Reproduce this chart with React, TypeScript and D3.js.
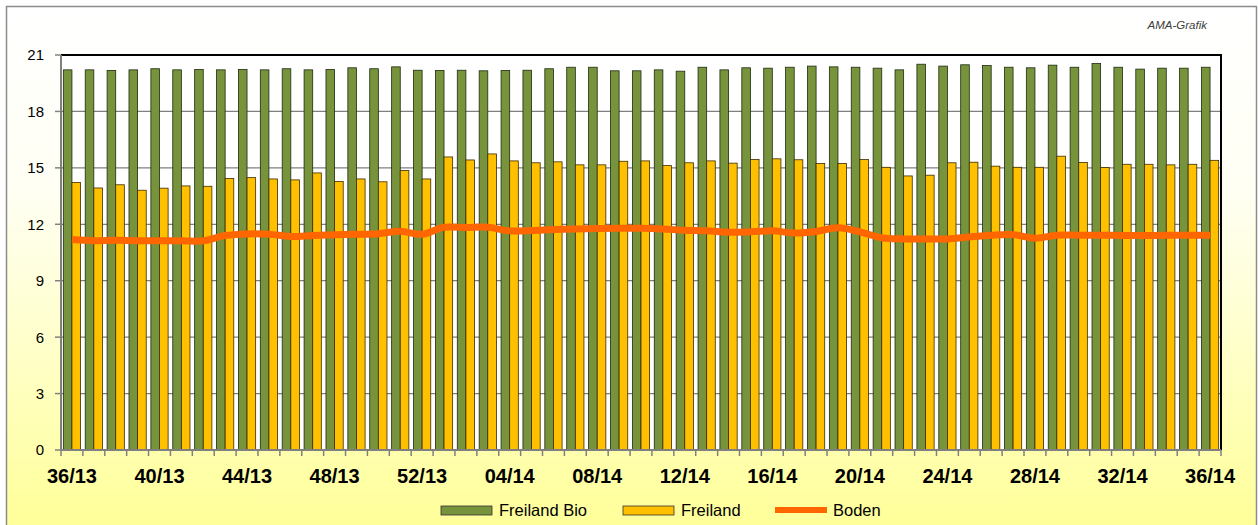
import { useRef, useEffect } from 'react';
import * as d3 from 'd3';

const weeks = [
  '36/13', '37/13', '38/13', '39/13', '40/13', '41/13', '42/13', '43/13', '44/13', '45/13',
  '46/13', '47/13', '48/13', '49/13', '50/13', '51/13', '52/13', '01/14', '02/14', '03/14',
  '04/14', '05/14', '06/14', '07/14', '08/14', '09/14', '10/14', '11/14', '12/14', '13/14',
  '14/14', '15/14', '16/14', '17/14', '18/14', '19/14', '20/14', '21/14', '22/14', '23/14',
  '24/14', '25/14', '26/14', '27/14', '28/14', '29/14', '30/14', '31/14', '32/14', '33/14',
  '34/14', '35/14', '36/14',
];

const freilandBio = [
  20.21, 20.21, 20.18, 20.21, 20.27, 20.21, 20.23, 20.21, 20.23, 20.21, 20.27, 20.21, 20.23,
  20.32, 20.27, 20.37, 20.19, 20.18, 20.19, 20.16, 20.18, 20.19, 20.27, 20.35, 20.35, 20.16,
  20.16, 20.21, 20.14, 20.35, 20.21, 20.32, 20.3, 20.35, 20.41, 20.37, 20.35, 20.3, 20.21,
  20.51, 20.41, 20.48, 20.44, 20.35, 20.32, 20.46, 20.35, 20.55, 20.35, 20.25, 20.3, 20.3, 20.35,
];

const freiland = [
  14.22, 13.93, 14.1, 13.81, 13.92, 14.04, 14.02, 14.43, 14.48, 14.41, 14.36, 14.73, 14.27,
  14.41, 14.26, 14.86, 14.41, 15.58, 15.42, 15.74, 15.37, 15.27, 15.32, 15.16, 15.16, 15.35,
  15.37, 15.12, 15.27, 15.37, 15.25, 15.44, 15.48, 15.43, 15.23, 15.23, 15.44, 15.03, 14.57,
  14.61, 15.27, 15.3, 15.09, 15.03, 15.03, 15.62, 15.28, 15.02, 15.19, 15.19, 15.16, 15.19, 15.4,
];

const boden = [
  11.19, 11.13, 11.15, 11.13, 11.13, 11.12, 11.12, 11.4, 11.49, 11.47, 11.35, 11.4, 11.44,
  11.47, 11.5, 11.63, 11.47, 11.84, 11.83, 11.84, 11.65, 11.67, 11.72, 11.75, 11.77, 11.79,
  11.79, 11.75, 11.68, 11.65, 11.58, 11.6, 11.65, 11.54, 11.62, 11.81, 11.6, 11.28, 11.22,
  11.22, 11.22, 11.33, 11.42, 11.45, 11.26, 11.42, 11.42, 11.42, 11.4, 11.4, 11.42, 11.42, 11.42,
];

const yTicks = [0, 3, 6, 9, 12, 15, 18, 21];
const seriesNames = ['Freiland Bio', 'Freiland', 'Boden'];

const width = 1258;
const height = 525;
const plot = { left: 61, right: 1221, top: 55, bottom: 450 };
const colors = { bio: '#77933C', frei: '#FFC000', boden: '#FF6600' };
const font = '"Liberation Sans", Arial, sans-serif';

export default function App(): JSX.Element {
  const svgRef = useRef<SVGSVGElement | null>(null);

  useEffect(() => {
    if (!svgRef.current) return;
    const svg = d3.select(svgRef.current);
    svg.selectAll('*').remove();

    // background gradient
    const defs = svg.append('defs');
    const grad = defs.append('linearGradient')
      .attr('id', 'bg')
      .attr('x1', 0).attr('y1', 0).attr('x2', 0).attr('y2', 1);
    grad.append('stop').attr('offset', '0%').attr('stop-color', '#FFFFFF');
    grad.append('stop').attr('offset', '35%').attr('stop-color', '#FFFFF4');
    grad.append('stop').attr('offset', '100%').attr('stop-color', '#FFFF99');

    svg.append('rect')
      .attr('x', 6.5).attr('y', 6.5)
      .attr('width', width - 8).attr('height', height - 4)
      .attr('fill', 'url(#bg)')
      .attr('stroke', '#8c8c8c')
      .attr('stroke-width', 1.5);

    svg.append('text')
      .attr('x', 1207).attr('y', 29)
      .attr('text-anchor', 'end')
      .attr('font-family', font)
      .attr('font-size', 11.5)
      .attr('font-style', 'italic')
      .attr('fill', '#404040')
      .text('AMA-Grafik');

    // scales
    const x0 = d3.scaleBand<string>()
      .domain(weeks)
      .range([plot.left, plot.right])
      .padding(0);
    const x1 = d3.scaleBand<string>()
      .domain(['bio', 'frei'])
      .range([0, x0.bandwidth()])
      .paddingInner(0)
      .paddingOuter(0.27);
    const y = d3.scaleLinear().domain([0, 21]).range([plot.bottom, plot.top]);

    // plot area
    svg.append('rect')
      .attr('x', plot.left).attr('y', plot.top)
      .attr('width', plot.right - plot.left)
      .attr('height', plot.bottom - plot.top)
      .attr('fill', '#FFFFFF');

    // gridlines
    svg.append('g')
      .selectAll('line')
      .data(yTicks.filter(t => t > 0 && t < 21))
      .join('line')
      .attr('x1', plot.left).attr('x2', plot.right)
      .attr('y1', d => y(d)).attr('y2', d => y(d))
      .attr('stroke', '#808080')
      .attr('stroke-width', 1.3);

    // bars
    const groups = svg.append('g')
      .selectAll('g')
      .data(weeks)
      .join('g')
      .attr('transform', d => `translate(${x0(d)},0)`);

    groups.append('rect')
      .attr('x', x1('bio') ?? 0)
      .attr('y', (_, i) => y(freilandBio[i]))
      .attr('width', x1.bandwidth())
      .attr('height', (_, i) => plot.bottom - y(freilandBio[i]))
      .attr('fill', colors.bio)
      .attr('stroke', '#1f2a0f')
      .attr('stroke-width', 0.8);

    groups.append('rect')
      .attr('x', x1('frei') ?? 0)
      .attr('y', (_, i) => y(freiland[i]))
      .attr('width', x1.bandwidth())
      .attr('height', (_, i) => plot.bottom - y(freiland[i]))
      .attr('fill', colors.frei)
      .attr('stroke', '#3a2c00')
      .attr('stroke-width', 0.8);

    // Boden line
    const line = d3.line<number>()
      .x((_, i) => (x0(weeks[i]) ?? 0) + x0.bandwidth() / 2)
      .y(d => y(d))
      .curve(d3.curveCatmullRom.alpha(0.5));

    svg.append('path')
      .datum(boden)
      .attr('d', line)
      .attr('fill', 'none')
      .attr('stroke', colors.boden)
      .attr('stroke-width', 7)
      .attr('stroke-linejoin', 'round');

    // top / right frame
    svg.append('path')
      .attr('d', `M${plot.left},${plot.top}H${plot.right}V${plot.bottom}`)
      .attr('fill', 'none')
      .attr('stroke', '#000')
      .attr('stroke-width', 2);

    // y axis
    const yAxis = svg.append('g');
    yAxis.append('line')
      .attr('x1', plot.left).attr('x2', plot.left)
      .attr('y1', plot.top).attr('y2', plot.bottom)
      .attr('stroke', '#808080').attr('stroke-width', 2);
    yAxis.selectAll('line.tick')
      .data(yTicks)
      .join('line')
      .attr('class', 'tick')
      .attr('x1', plot.left - 6).attr('x2', plot.left)
      .attr('y1', d => y(d)).attr('y2', d => y(d))
      .attr('stroke', '#808080').attr('stroke-width', 1.5);
    yAxis.selectAll('text')
      .data(yTicks)
      .join('text')
      .attr('x', 44)
      .attr('y', d => y(d))
      .attr('dy', '0.36em')
      .attr('text-anchor', 'end')
      .attr('font-family', font)
      .attr('font-size', 15)
      .attr('fill', '#000')
      .text(d => d);

    // x axis
    const xAxis = svg.append('g');
    xAxis.append('line')
      .attr('x1', plot.left).attr('x2', plot.right)
      .attr('y1', plot.bottom).attr('y2', plot.bottom)
      .attr('stroke', '#808080').attr('stroke-width', 2);
    const boundaries = weeks.map(w => x0(w) ?? 0).concat([plot.right]);
    xAxis.selectAll('line.tick')
      .data(boundaries)
      .join('line')
      .attr('class', 'tick')
      .attr('x1', d => d).attr('x2', d => d)
      .attr('y1', plot.bottom).attr('y2', plot.bottom + 6)
      .attr('stroke', '#808080').attr('stroke-width', 1.5);
    xAxis.selectAll('text')
      .data(weeks.filter((_, i) => i % 4 === 0))
      .join('text')
      .attr('x', d => (x0(d) ?? 0) + x0.bandwidth() / 2)
      .attr('y', 483)
      .attr('text-anchor', 'middle')
      .attr('font-family', font)
      .attr('font-size', 20)
      .attr('font-weight', 'bold')
      .attr('fill', '#000')
      .text(d => d);

    // legend
    const legend = svg.append('g').attr('font-family', font).attr('font-size', 16.5);
    legend.append('rect')
      .attr('x', 441).attr('y', 506).attr('width', 51).attr('height', 9)
      .attr('fill', colors.bio).attr('stroke', '#333').attr('stroke-width', 0.8);
    legend.append('text').attr('x', 499).attr('y', 516).text(seriesNames[0]);
    legend.append('rect')
      .attr('x', 623).attr('y', 506).attr('width', 51).attr('height', 9)
      .attr('fill', colors.frei).attr('stroke', '#333').attr('stroke-width', 0.8);
    legend.append('text').attr('x', 681).attr('y', 516).text(seriesNames[1]);
    legend.append('line')
      .attr('x1', 775).attr('x2', 827).attr('y1', 510).attr('y2', 510)
      .attr('stroke', colors.boden).attr('stroke-width', 6);
    legend.append('text').attr('x', 833).attr('y', 516).text(seriesNames[2]);
  }, []);

  return (
    <svg
      ref={svgRef}
      width={width}
      height={height}
      style={{ position: 'absolute', left: 0, top: 0 }}
    />
  );
}
